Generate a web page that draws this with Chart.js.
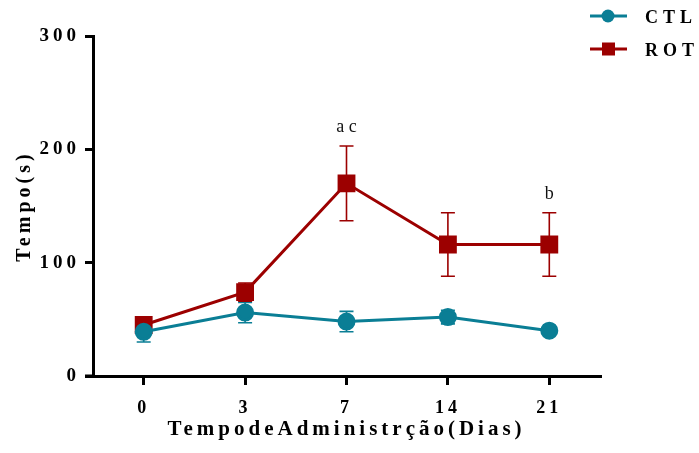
<!DOCTYPE html>
<html>
<head>
<meta charset="utf-8">
<script src="https://cdn.jsdelivr.net/npm/chart.js@4/dist/chart.umd.min.js"></script>
<style>
  html, body { margin: 0; padding: 0; background: #fff; }
  #wrap { width: 699px; height: 453px; }
</style>
</head>
<body>
<div id="wrap"><canvas id="timeChart"></canvas></div>
<script>
  // data
  const days = ['0', '3', '7', '14', '21'];
  const ctlMean = [39, 56, 48, 52, 40];
  const ctlErr = [9, 9, 9, 6, 3];
  const rotMean = [45, 74, 170, 116, 116];
  const rotErr = [4, 8, 33, 28, 28];
  const yTicks = [0, 100, 200, 300];
  const marks = [{ day: '7', text: 'a c', value: 203 }, { day: '21', text: 'b', value: 144 }];

  const ctlColor = '#0a7e95';
  const rotColor = '#9c0000';
  const serif = '"Liberation Serif", "Times New Roman", serif';

  // error bars, drawn with the chart scales
  const errorBars = {
    id: 'errorBars',
    beforeDatasetsDraw(chart) {
      const ctx = chart.ctx;
      const x = chart.scales.x, y = chart.scales.y;
      const errs = [ctlErr, rotErr];
      chart.data.datasets.forEach(function (ds, d) {
        ctx.save();
        ctx.strokeStyle = ds.borderColor;
        ctx.lineWidth = 1.6;
        ds.data.forEach(function (v, i) {
          const px = x.getPixelForValue(i);
          const top = y.getPixelForValue(v + errs[d][i]);
          const bot = y.getPixelForValue(v - errs[d][i]);
          ctx.beginPath();
          ctx.moveTo(px, top); ctx.lineTo(px, bot);
          ctx.moveTo(px - 7, top); ctx.lineTo(px + 7, top);
          ctx.moveTo(px - 7, bot); ctx.lineTo(px + 7, bot);
          ctx.stroke();
        });
        ctx.restore();
      });
    }
  };

  // spaced lettering like the original figure
  const spacing = {
    id: 'spacing',
    beforeDraw(chart) { chart.ctx.letterSpacing = '4px'; }
  };

  // legend, significance letters and axis stub
  const extras = {
    id: 'extras',
    afterDraw(chart) {
      const ctx = chart.ctx;
      const x = chart.scales.x, y = chart.scales.y;
      ctx.save();
      // x axis stub left of the y axis
      ctx.strokeStyle = '#000';
      ctx.lineWidth = 3;
      ctx.beginPath();
      ctx.moveTo(chart.chartArea.left - 8, chart.chartArea.bottom);
      ctx.lineTo(chart.chartArea.left, chart.chartArea.bottom);
      ctx.stroke();

      // legend
      chart.data.datasets.forEach(function (ds, d) {
        const ly = 16 + d * 33;
        ctx.strokeStyle = ds.borderColor;
        ctx.fillStyle = ds.borderColor;
        ctx.lineWidth = 3;
        ctx.beginPath();
        ctx.moveTo(590, ly); ctx.lineTo(627, ly);
        ctx.stroke();
        if (ds.pointStyle === 'rect') {
          ctx.fillRect(602, ly - 6.5, 13, 13);
        } else {
          ctx.beginPath();
          ctx.arc(608, ly, 6.5, 0, Math.PI * 2);
          ctx.fill();
        }
        ctx.fillStyle = '#000';
        ctx.font = 'bold 18px ' + serif;
        ctx.letterSpacing = '5px';
        ctx.textAlign = 'left';
        ctx.textBaseline = 'middle';
        ctx.fillText(ds.label, 645, ly + 2);
      });

      // significance letters
      ctx.letterSpacing = '0px';
      ctx.fillStyle = '#111';
      ctx.font = '18px ' + serif;
      ctx.textAlign = 'center';
      ctx.textBaseline = 'bottom';
      marks.forEach(function (m) {
        const i = days.indexOf(m.day);
        ctx.fillText(m.text, x.getPixelForValue(i), y.getPixelForValue(m.value) - 10);
      });
      ctx.restore();
    }
  };

  const ctx = document.getElementById('timeChart').getContext('2d');
  const timeChart = new Chart(ctx, {
    type: 'line',
    data: {
      labels: days,
      datasets: [
        {
          label: 'CTL',
          data: ctlMean,
          borderColor: ctlColor,
          backgroundColor: ctlColor,
          borderWidth: 3,
          pointStyle: 'circle',
          pointRadius: 7.5,
          pointHoverRadius: 7.5,
          tension: 0
        },
        {
          label: 'ROT',
          data: rotMean,
          borderColor: rotColor,
          backgroundColor: rotColor,
          borderWidth: 3,
          pointStyle: 'rect',
          pointRadius: 10.5,
          pointHoverRadius: 10.5,
          tension: 0
        }
      ]
    },
    options: {
      responsive: true,
      maintainAspectRatio: false,
      animation: false,
      events: [],
      layout: { padding: { top: 36, right: 99, left: 0, bottom: 0 } },
      plugins: {
        legend: { display: false },
        tooltip: { enabled: false }
      },
      scales: {
        x: {
          offset: true,
          grid: { drawOnChartArea: false, drawTicks: true, tickLength: 9, color: '#000', lineWidth: 3 },
          border: { display: true, color: '#000', width: 3 },
          ticks: { color: '#000', font: { family: serif, size: 18, weight: 'bold' }, padding: 13 },
          title: {
            display: true,
            text: 'TempodeAdministrção(Dias)',
            color: '#000',
            font: { family: serif, size: 21, weight: 'bold' },
            padding: { top: 0, bottom: 11 }
          },
          afterFit(scale) { scale.height = 77; }
        },
        y: {
          min: 0,
          max: 300,
          afterBuildTicks(scale) { scale.ticks = yTicks.map(function (v) { return { value: v }; }); },
          grid: { drawOnChartArea: false, drawTicks: true, tickLength: 8, color: '#000', lineWidth: 3 },
          border: { display: true, color: '#000', width: 3 },
          ticks: { color: '#000', font: { family: serif, size: 19, weight: 'bold' }, padding: 5 },
          title: {
            display: true,
            text: 'Tempo(s)',
            color: '#000',
            font: { family: serif, size: 20, weight: 'bold' },
            padding: { top: 13, bottom: 0 }
          },
          afterFit(scale) { scale.width = 93; }
        }
      }
    },
    plugins: [spacing, errorBars, extras]
  });
</script>
</body>
</html>
